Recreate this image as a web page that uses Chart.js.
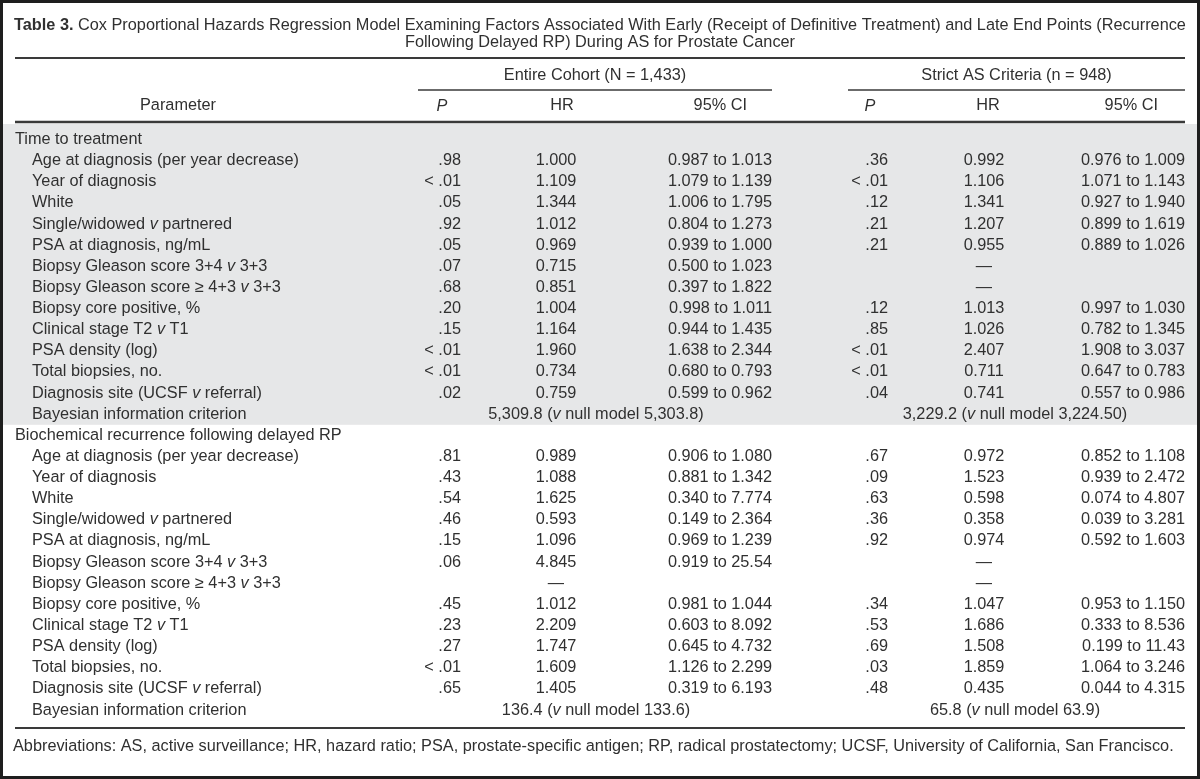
<!DOCTYPE html>
<html>
<head>
<meta charset="utf-8">
<script src="https://cdn.jsdelivr.net/npm/chart.js@4.4.1/dist/chart.umd.min.js"></script>
<style>
    html, body { margin: 0; padding: 0; background: #fff; }
    #wrap { width: 1200px; height: 779px; position: relative; }
</style>
</head>
<body>
<div id="wrap"><canvas id="table-chart"></canvas></div>
<script>
// ---- table content (text marked *like this* is set in italics) ----
const titleBold = "Table 3.";
const titleLine1 = " Cox Proportional Hazards Regression Model Examining Factors Associated With Early (Receipt of Definitive Treatment) and Late End Points (Recurrence";
const titleLine2 = "Following Delayed RP) During AS for Prostate Cancer";
const groupHeaders = ["Entire Cohort (N = 1,433)", "Strict AS Criteria (n = 948)"];
const columnHeaders = ["Parameter", "*P*", "HR", "95% CI"];
const footnote = "Abbreviations: AS, active surveillance; HR, hazard ratio; PSA, prostate-specific antigen; RP, radical prostatectomy; UCSF, University of California, San Francisco.";

const sectionLabels = ["Time to treatment", "Biochemical recurrence following delayed RP"];
const parameterLabels = [
    "Age at diagnosis (per year decrease)",
    "Year of diagnosis",
    "White",
    "Single/widowed *v* partnered",
    "PSA at diagnosis, ng/mL",
    "Biopsy Gleason score 3+4 *v* 3+3",
    "Biopsy Gleason score \u2265 4+3 *v* 3+3",
    "Biopsy core positive, %",
    "Clinical stage T2 *v* T1",
    "PSA density (log)",
    "Total biopsies, no.",
    "Diagnosis site (UCSF *v* referral)"
];
const bicLabel = "Bayesian information criterion";

// time to treatment
const treatEntireP = [".98", "< .01", ".05", ".92", ".05", ".07", ".68", ".20", ".15", "< .01", "< .01", ".02"];
const treatEntireHR = ["1.000", "1.109", "1.344", "1.012", "0.969", "0.715", "0.851", "1.004", "1.164", "1.960", "0.734", "0.759"];
const treatEntireCI = ["0.987 to 1.013", "1.079 to 1.139", "1.006 to 1.795", "0.804 to 1.273", "0.939 to 1.000", "0.500 to 1.023",
    "0.397 to 1.822", "0.998 to 1.011", "0.944 to 1.435", "1.638 to 2.344", "0.680 to 0.793", "0.599 to 0.962"];
const treatStrictP = [".36", "< .01", ".12", ".21", ".21", "", "", ".12", ".85", "< .01", "< .01", ".04"];
const treatStrictHR = ["0.992", "1.106", "1.341", "1.207", "0.955", "\u2014", "\u2014", "1.013", "1.026", "2.407", "0.711", "0.741"];
const treatStrictCI = ["0.976 to 1.009", "1.071 to 1.143", "0.927 to 1.940", "0.899 to 1.619", "0.889 to 1.026", "",
    "", "0.997 to 1.030", "0.782 to 1.345", "1.908 to 3.037", "0.647 to 0.783", "0.557 to 0.986"];
const treatBic = ["5,309.8 (*v* null model 5,303.8)", "3,229.2 (*v* null model 3,224.50)"];

// biochemical recurrence
const recurEntireP = [".81", ".43", ".54", ".46", ".15", ".06", "", ".45", ".23", ".27", "< .01", ".65"];
const recurEntireHR = ["0.989", "1.088", "1.625", "0.593", "1.096", "4.845", "\u2014", "1.012", "2.209", "1.747", "1.609", "1.405"];
const recurEntireCI = ["0.906 to 1.080", "0.881 to 1.342", "0.340 to 7.774", "0.149 to 2.364", "0.969 to 1.239", "0.919 to 25.54",
    "", "0.981 to 1.044", "0.603 to 8.092", "0.645 to 4.732", "1.126 to 2.299", "0.319 to 6.193"];
const recurStrictP = [".67", ".09", ".63", ".36", ".92", "", "", ".34", ".53", ".69", ".03", ".48"];
const recurStrictHR = ["0.972", "1.523", "0.598", "0.358", "0.974", "\u2014", "\u2014", "1.047", "1.686", "1.508", "1.859", "0.435"];
const recurStrictCI = ["0.852 to 1.108", "0.939 to 2.472", "0.074 to 4.807", "0.039 to 3.281", "0.592 to 1.603", "",
    "", "0.953 to 1.150", "0.333 to 8.536", "0.199 to 11.43", "1.064 to 3.246", "0.044 to 4.315"];
const recurBic = ["136.4 (*v* null model 133.6)", "65.8 (*v* null model 63.9)"];

// ---- build row list ----
const blocks = [
    { label: sectionLabels[0], cols: [treatEntireP, treatEntireHR, treatEntireCI, treatStrictP, treatStrictHR, treatStrictCI], bic: treatBic },
    { label: sectionLabels[1], cols: [recurEntireP, recurEntireHR, recurEntireCI, recurStrictP, recurStrictHR, recurStrictCI], bic: recurBic }
];
const rows = [];
blocks.forEach(b => {
    rows.push({ type: "section", text: b.label });
    parameterLabels.forEach((name, i) => {
        rows.push({ type: "param", text: name, cells: b.cols.map(c => c[i]) });
    });
    rows.push({ type: "bic", text: bicLabel, bic: b.bic });
});

// ---- layout ----
const FONT = '"Liberation Sans", Arial, Helvetica, sans-serif';
const SIZE = 16.3;
const INK = "#303030";
const RULE = "#3a3a3a";
const BAND = "#e6e7e8";
// x anchors on the 0..1200 value axis: [position, align]
const cellCols = [[461, "right"], [556, "center"], [772, "right"], [888, "right"], [984, "center"], [1185, "right"]];
const headCols = [[178, "center"], [442, "center"], [562, "center"], [747, "right"], [870, "center"], [988, "center"], [1158, "right"]];
const bicCols = [596, 1015];
const groupSpans = [[418, 772], [848, 1185]];

function font(style, weight) {
    return `${style} ${weight} ${SIZE}px ${FONT}`;
}

function richWidth(ctx, text, weight) {
    let w = 0;
    text.split("*").forEach((seg, k) => {
        ctx.font = font(k % 2 ? "italic" : "normal", weight);
        w += ctx.measureText(seg).width;
    });
    return w;
}

function drawRich(ctx, text, x, y, align, weight = "normal") {
    const w = richWidth(ctx, text, weight);
    let cx = align === "right" ? x - w : align === "center" ? x - w / 2 : x;
    ctx.textAlign = "left";
    text.split("*").forEach((seg, k) => {
        ctx.font = font(k % 2 ? "italic" : "normal", weight);
        ctx.fillText(seg, cx, y);
        cx += ctx.measureText(seg).width;
    });
}

function hline(ctx, x0, x1, y, w) {
    ctx.beginPath();
    ctx.lineWidth = w;
    ctx.strokeStyle = RULE;
    ctx.moveTo(x0, y);
    ctx.lineTo(x1, y);
    ctx.stroke();
}

const tablePlugin = {
    id: "tableCells",
    beforeDraw(chart) {
        const { ctx, scales: { x, y } } = chart;
        ctx.save();
        ctx.fillStyle = "#fff";
        ctx.fillRect(0, 0, chart.width, chart.height);
        // shaded first block
        const bandBottom = (y.getPixelForValue(13) + y.getPixelForValue(14)) / 2;
        ctx.fillStyle = BAND;
        ctx.fillRect(x.getPixelForValue(3), 124, x.getPixelForValue(1197) - x.getPixelForValue(3), bandBottom - 124);
        ctx.restore();
    },
    afterDraw(chart) {
        const { ctx, scales: { x, y } } = chart;
        ctx.save();
        ctx.fillStyle = INK;
        ctx.textBaseline = "middle";

        // title
        ctx.font = font("normal", "bold");
        const bw = ctx.measureText(titleBold).width;
        ctx.font = font("normal", "normal");
        const rw = ctx.measureText(titleLine1).width;
        const tx = x.getPixelForValue(600) - (bw + rw) / 2;
        ctx.font = font("normal", "bold");
        ctx.fillText(titleBold, tx, 26);
        ctx.font = font("normal", "normal");
        ctx.fillText(titleLine1, tx + bw, 26);
        drawRich(ctx, titleLine2, x.getPixelForValue(600), 43, "center");
        hline(ctx, x.getPixelForValue(15), x.getPixelForValue(1185), 58, 2);

        // column headers
        groupHeaders.forEach((g, i) => {
            const [a, b] = groupSpans[i];
            drawRich(ctx, g, x.getPixelForValue((a + b) / 2), 76, "center");
            hline(ctx, x.getPixelForValue(a), x.getPixelForValue(b), 90, 1.5);
        });
        const heads = [columnHeaders[0], columnHeaders[1], columnHeaders[2], columnHeaders[3], columnHeaders[1], columnHeaders[2], columnHeaders[3]];
        heads.forEach((h, i) => drawRich(ctx, h, x.getPixelForValue(headCols[i][0]), 106, headCols[i][1]));
        hline(ctx, x.getPixelForValue(15), x.getPixelForValue(1185), 122, 2.5);

        // body rows
        rows.forEach((r, i) => {
            const py = y.getPixelForValue(i);
            if (r.type === "section") {
                drawRich(ctx, r.text, x.getPixelForValue(15), py, "left");
                return;
            }
            drawRich(ctx, r.text, x.getPixelForValue(32), py, "left");
            if (r.type === "param") {
                r.cells.forEach((c, k) => {
                    if (c) drawRich(ctx, c, x.getPixelForValue(cellCols[k][0]), py, cellCols[k][1]);
                });
            } else {
                r.bic.forEach((c, k) => drawRich(ctx, c, x.getPixelForValue(bicCols[k]), py, "center"));
            }
        });

        hline(ctx, x.getPixelForValue(15), x.getPixelForValue(1185), 728, 2);
        drawRich(ctx, footnote, x.getPixelForValue(13), 747, "left");

        // outer frame
        ctx.lineWidth = 3;
        ctx.strokeStyle = "#1e1e1e";
        ctx.strokeRect(1.5, 1.5, chart.width - 3, chart.height - 3);
        ctx.restore();
    }
};

const ctx = document.getElementById("table-chart").getContext("2d");
new Chart(ctx, {
    type: "scatter",
    data: { datasets: [] },
    options: {
        responsive: true,
        maintainAspectRatio: false,
        animation: false,
        events: [],
        layout: { padding: { top: 129, bottom: 58.4, left: 0, right: 0 } },
        plugins: { legend: { display: false }, tooltip: { enabled: false } },
        scales: {
            x: { type: "linear", min: 0, max: 1200, display: false },
            y: { type: "category", labels: rows.map(r => r.text), offset: true, display: false }
        }
    },
    plugins: [tablePlugin]
});
</script>
</body>
</html>
